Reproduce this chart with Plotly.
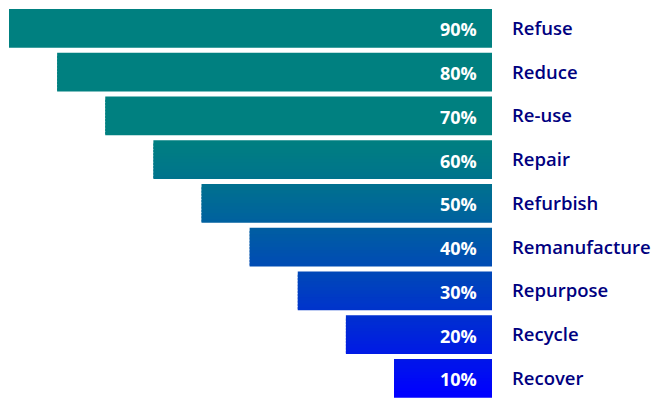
import plotly.graph_objects as go

categories = ["Refuse", "Reduce", "Re-use", "Repair", "Refurbish",
              "Remanufacture", "Repurpose", "Recycle", "Recover"]
values = [90, 80, 70, 60, 50, 40, 30, 20, 10]
value_labels = [f"{v}%" for v in values]

# axis floor: bars start a bit below zero (right edge of plot)
FLOOR = -10.36
positions = list(range(len(categories)))

Y_TOP, Y_BOTTOM = -0.648, 8.472
BAR_W = 0.885
N_STRIPS = 12
OVERLAP = 0.05

TEAL = (0, 128, 128)
BLUE = (0, 0, 255)


def grad_color(frac):
    # frac: 0 at top of plot, 1 at bottom
    start = 0.335
    t = 0.0 if frac < start else min(1.0, (frac - start) / (0.99 - start))
    t = t ** 1.3
    r = round(TEAL[0] + (BLUE[0] - TEAL[0]) * t)
    g = round(TEAL[1] + (BLUE[1] - TEAL[1]) * t)
    b = round(TEAL[2] + (BLUE[2] - TEAL[2]) * t)
    return f"rgb({r},{g},{b})"


fig = go.Figure()
sw = BAR_W / N_STRIPS
for k in range(N_STRIPS):
    off = -BAR_W / 2 + k * sw
    w = sw + (OVERLAP if k < N_STRIPS - 1 else 0)
    colors = []
    for p in positions:
        yc = p + off + sw / 2
        frac = (yc - Y_TOP) / (Y_BOTTOM - Y_TOP)
        colors.append(grad_color(frac))
    fig.add_trace(go.Bar(
        orientation="h",
        y=positions,
        x=[v - FLOOR for v in values],
        base=[FLOOR] * len(values),
        offset=off,
        width=w,
        marker=dict(color=colors, line=dict(width=0)),
        hoverinfo="skip",
        showlegend=False,
    ))

for p, lab in zip(positions, value_labels):
    fig.add_annotation(
        x=FLOOR, y=p, xref="x", yref="y", text=lab, showarrow=False,
        xanchor="right", yanchor="middle", xshift=-13, yshift=-1,
        font=dict(family="Open Sans", size=18, color="white", weight="bold"),
    )

fig.update_layout(
    width=653, height=399,
    margin=dict(l=0, r=161, t=0, b=0),
    paper_bgcolor="white", plot_bgcolor="white",
    barmode="overlay",
    xaxis=dict(range=[91.87, FLOOR], showgrid=False, zeroline=False,
               showticklabels=False, showline=False, fixedrange=True),
    yaxis=dict(range=[Y_BOTTOM, Y_TOP], side="right", tickvals=positions,
               ticktext=categories, showgrid=False, zeroline=False,
               showline=False, ticks="", ticklabelstandoff=19,
               tickfont=dict(family="Open Sans", size=18.5, color="#000080", weight=600)),
)

fig.write_html("out.html")
